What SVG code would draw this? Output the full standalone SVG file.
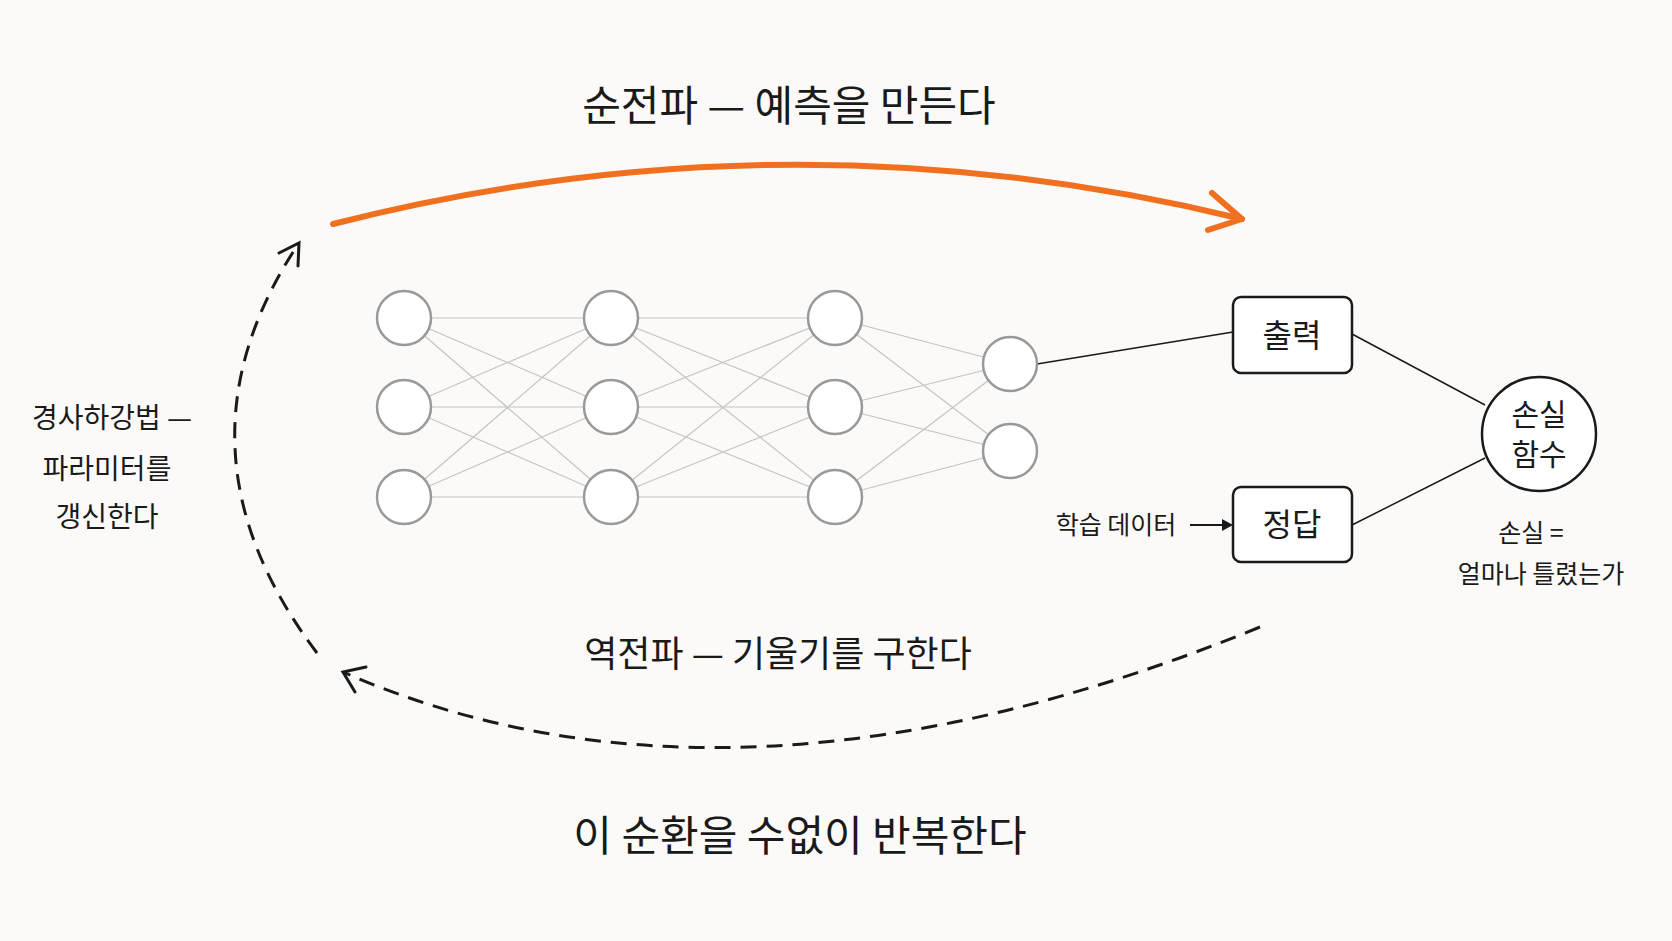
<svg xmlns="http://www.w3.org/2000/svg" width="1672" height="941" viewBox="0 0 1672 941">
<style>
.t{font-family:"Noto Sans CJK KR","Noto Sans",sans-serif;fill:#1a1a1a;text-anchor:middle}
.n{fill:#fff;stroke:#999;stroke-width:2.5}
.w{stroke:#c4c4c4;stroke-width:1.2;fill:none}
.box{fill:#fff;stroke:#1a1a1a;stroke-width:2.5}
.dash{fill:none;stroke:#1a1a1a;stroke-width:3;stroke-dasharray:16 10}
</style>
<rect width="1672" height="941" fill="#fbfaf8"/>
<text class="t" x="789" y="121" font-size="42">순전파 — 예측을 만든다</text>
<text class="t" x="778" y="667" font-size="36">역전파 — 기울기를 구한다</text>
<text class="t" x="800" y="851" font-size="42">이 순환을 수없이 반복한다</text>
<g id="left-label">
<text class="t" x="112" y="428" font-size="28">경사하강법 —</text>
<text class="t" x="107" y="479" font-size="28">파라미터를</text>
<text class="t" x="107" y="527" font-size="28">갱신한다</text>
</g>
<g id="connectors">
<path d="M333 224 Q789 108 1242 219" fill="none" stroke="#f07020" stroke-width="6" stroke-linecap="round"/>
<path d="M1212 193 L1242 219 L1208 230" fill="none" stroke="#f07020" stroke-width="6" stroke-linecap="round" stroke-linejoin="round"/>
<path class="dash" d="M317 653 Q162 448 299 243"/>
<path d="M279 253 L299 243 L298 266" fill="none" stroke="#1a1a1a" stroke-width="3" stroke-linecap="round"/>
<path class="dash" d="M1260 627 Q733 843 343 672"/>
<path d="M355 692 L343 672 L366 667" fill="none" stroke="#1a1a1a" stroke-width="3" stroke-linecap="round"/>
<g class="w">
<path d="M404 318L611 318M404 318L611 407M404 318L611 497M404 407L611 318M404 407L611 407M404 407L611 497M404 497L611 318M404 497L611 407M404 497L611 497"/>
<path d="M611 318L835 318M611 318L835 407M611 318L835 497M611 407L835 318M611 407L835 407M611 407L835 497M611 497L835 318M611 497L835 407M611 497L835 497"/>
<path d="M835 318L1010 364M835 318L1010 451M835 407L1010 364M835 407L1010 451M835 497L1010 364M835 497L1010 451"/>
</g>
<path d="M1037 364L1233 332M1352 334L1485 405M1352 525L1485 458" stroke="#1a1a1a" stroke-width="1.5" fill="none"/>
<path d="M1190 525H1225" stroke="#1a1a1a" stroke-width="2"/>
<path d="M1222 519L1233 525L1222 531Z" fill="#1a1a1a"/>
</g>
<g id="neurons">
<circle class="n" cx="404" cy="318" r="27"/><circle class="n" cx="404" cy="407" r="27"/><circle class="n" cx="404" cy="497" r="27"/>
<circle class="n" cx="611" cy="318" r="27"/><circle class="n" cx="611" cy="407" r="27"/><circle class="n" cx="611" cy="497" r="27"/>
<circle class="n" cx="835" cy="318" r="27"/><circle class="n" cx="835" cy="407" r="27"/><circle class="n" cx="835" cy="497" r="27"/>
<circle class="n" cx="1010" cy="364" r="27"/><circle class="n" cx="1010" cy="451" r="27"/>
</g>
<g id="output"><rect class="box" x="1233" y="297" width="119" height="76" rx="8"/><text class="t" x="1292" y="347" font-size="32">출력</text></g>
<g id="answer"><rect class="box" x="1233" y="487" width="119" height="75" rx="8"/><text class="t" x="1292" y="536" font-size="32">정답</text></g>
<g id="loss"><circle class="box" cx="1539" cy="434" r="57"/><text class="t" x="1539" y="425" font-size="30">손실</text><text class="t" x="1539" y="465" font-size="30">함수</text></g>
<g id="data-label"><text class="t" x="1116" y="534" font-size="25">학습 데이터</text></g>
<g id="loss-note"><text class="t" x="1531" y="542" font-size="25">손실 =</text><text class="t" x="1541" y="583" font-size="25">얼마나 틀렸는가</text></g>
</svg>
